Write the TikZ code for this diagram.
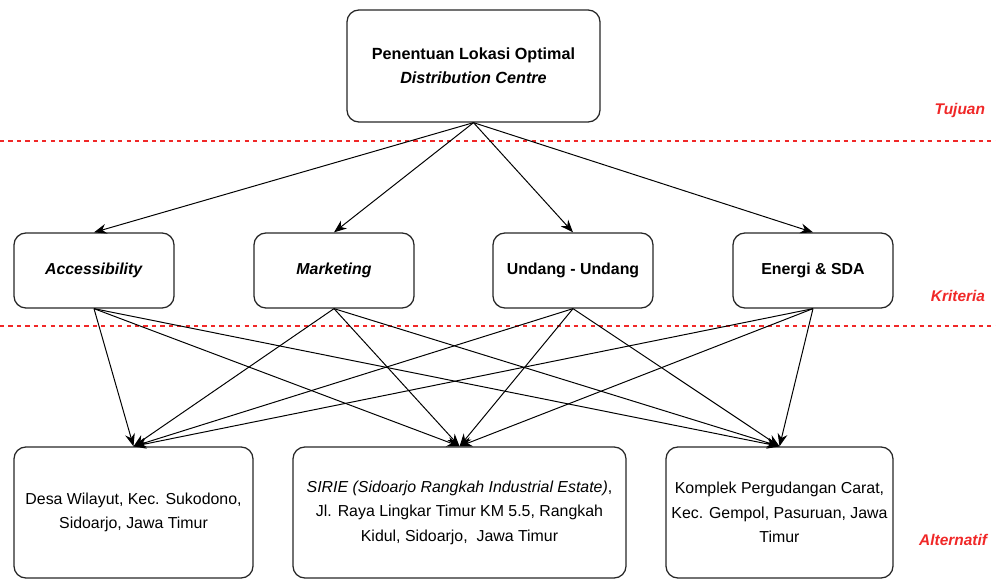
\documentclass[tikz,border=0pt]{standalone}
\usepackage{fontspec}
\setmainfont{Liberation Sans}
\usetikzlibrary{arrows.meta}

\definecolor{tierred}{RGB}{240,40,40}

\begin{document}
\begin{tikzpicture}[x=0.025cm, y=-0.025cm,
box/.style={draw=black!85, line width=0.9pt, rounded corners=0.3cm, align=center, font=\fontsize{11.3}{17.5}\selectfont},
critbox/.style={box, minimum width=4cm, minimum height=1.875cm, font=\fontsize{11.3}{17.5}\selectfont\bfseries},
altbox/.style={box, minimum height=3.275cm},
tier/.style={font=\fontsize{11}{12}\selectfont\bfseries\itshape, text=tierred, anchor=east},
sep/.style={draw=tierred, dash pattern=on 3pt off 3pt, line width=0.8pt},
arr/.style={-{Stealth[length=9pt, width=7pt]}, line width=0.7pt}
]
    \useasboundingbox (0,0) rectangle (996,584);

    % goal
    \node[box, minimum width=6.325cm, minimum height=2.8cm, font=\fontsize{11.5}{17}\selectfont\bfseries] (top) at (473.5,66)
        {Penentuan Lokasi Optimal\\ \textit{Distribution Centre}};

    % criteria
    \node[critbox] (acc) at (94,270.5){\textit{Accessibility}};
    \node[critbox] (mkt) at (334,270.5){\textit{Marketing}};
    \node[critbox] (uu) at (573,270.5){Undang - Undang};
    \node[critbox] (esda) at (813,270.5){Energi \& SDA};

    % alternatives
    \node[altbox, minimum width=5.975cm] (alt1) at (133.5,512.5)
        {Desa Wilayut, Kec. Sukodono,\\ Sidoarjo, Jawa Timur};
    \node[altbox, minimum width=8.325cm] (alt2) at (459.5,512.5)
        {\textit{SIRIE (Sidoarjo Rangkah Industrial Estate)},\\ Jl. Raya Lingkar Timur KM 5.5, Rangkah\\ Kidul, Sidoarjo,\ \ Jawa Timur};
    \node[altbox, minimum width=5.675cm] (alt3) at (779.5,512.5)
        {Komplek Pergudangan Carat,\\ Kec. Gempol, Pasuruan, Jawa\\ Timur};

    % level separators and names
    \draw[sep] (0,141) -- (996,141);
    \draw[sep] (0,326) -- (996,326);
    \node[tier] (tuj) at (990,111){Tujuan};
    \node[tier] (krit) at (990,296){Kriteria};
    \node[tier] (alt) at (992,540){Alternatif};

    \draw[arr] (top.south) -- (acc.north);
    \draw[arr] (top.south) -- (mkt.north);
    \draw[arr] (top.south) -- (uu.north);
    \draw[arr] (top.south) -- (esda.north);

    \draw[arr] (acc.south) -- (alt1.north);
    \draw[arr] (acc.south) -- (alt2.north);
    \draw[arr] (acc.south) -- (alt3.north);
    \draw[arr] (mkt.south) -- (alt1.north);
    \draw[arr] (mkt.south) -- (alt2.north);
    \draw[arr] (mkt.south) -- (alt3.north);
    \draw[arr] (uu.south) -- (alt1.north);
    \draw[arr] (uu.south) -- (alt2.north);
    \draw[arr] (uu.south) -- (alt3.north);
    \draw[arr] (esda.south) -- (alt1.north);
    \draw[arr] (esda.south) -- (alt2.north);
    \draw[arr] (esda.south) -- (alt3.north);
\end{tikzpicture}
\end{document}
